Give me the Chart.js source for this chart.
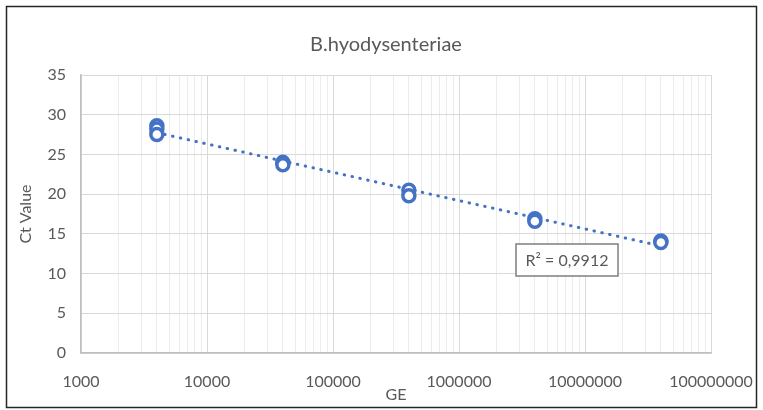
<!DOCTYPE html>
<html>
<head>
<meta charset="utf-8">
<script src="https://cdn.jsdelivr.net/npm/chart.js@4.4.0/dist/chart.umd.min.js"></script>
<style>
html, body { margin: 0; padding: 0; background: #fff; }
</style>
</head>
<body>
<canvas id="myChart" width="763" height="410"></canvas>
<script>
// data
const geValues = [4000, 4000, 4000, 40000, 40000, 400000, 400000, 4000000, 4000000, 40000000, 40000000];
const ctValues = [28.6, 28.2, 27.5, 24.0, 23.7, 20.5, 19.8, 16.9, 16.6, 14.1, 13.9];
const xTickValues = [1000, 10000, 100000, 1000000, 10000000, 100000000];
const xTickLabels = ['1000', '10000', '100000', '1000000', '10000000', '100000000'];
const yTicks = [0, 5, 10, 15, 20, 25, 30, 35];
const chartTitle = 'B.hyodysenteriae';
const rSquaredText = 'R² = 0,9912';

const blue = '#4472C4';
const textGrey = '#595959';
const font = 'Lato, "Open Sans", sans-serif';

// log trendline (least squares on log10 x), like Excel's
var lx = geValues.map(v => Math.log10(v));
var n = lx.length;
var mx = lx.reduce((a, b) => a + b, 0) / n;
var my = ctValues.reduce((a, b) => a + b, 0) / n;
var sxy = 0, sxx = 0;
for (var i = 0; i < n; i++) {
    sxy += (lx[i] - mx) * (ctValues[i] - my);
    sxx += (lx[i] - mx) * (lx[i] - mx);
}
var slope = sxy / sxx;
var icpt = my - slope * mx;
var xMin = Math.min.apply(null, geValues);
var xMax = Math.max.apply(null, geValues);
var trend = [xMin, xMax].map(x => ({ x: x, y: icpt + slope * Math.log10(x) }));

// minor log ticks 1..9 per decade
var allTicks = [];
for (var d = 0; d < xTickValues.length - 1; d++) {
    for (var k = 1; k < 10; k++) allTicks.push(xTickValues[d] * k);
}
allTicks.push(xTickValues[xTickValues.length - 1]);

// outer frame + title (title drawn here so it centres on the whole chart)
const framePlugin = {
    id: 'frame',
    afterDraw(chart) {
        const c = chart.ctx;
        c.save();
        c.strokeStyle = '#262626';
        c.lineWidth = 1.5;
        c.strokeRect(6.5, 6.5, 750, 401);
        c.fillStyle = textGrey;
        c.font = '20px ' + font;
        c.textAlign = 'center';
        c.textBaseline = 'middle';
        c.fillText(chartTitle, 386, 45);
        c.restore();
    }
};

const r2Plugin = {
    id: 'r2box',
    afterDatasetsDraw(chart) {
        const c = chart.ctx;
        const a = chart.chartArea;
        const left = a.left + 435, top = a.top + 169, w = 102, h = 32;
        c.save();
        c.fillStyle = '#fff';
        c.fillRect(left, top, w, h);
        c.strokeStyle = '#7f7f7f';
        c.lineWidth = 1.5;
        c.strokeRect(left, top, w, h);
        c.fillStyle = textGrey;
        c.font = '16px ' + font;
        c.textAlign = 'center';
        c.textBaseline = 'middle';
        c.fillText(rSquaredText, left + w / 2, top + h / 2 + 1);
        c.restore();
    }
};

const ctx = document.getElementById('myChart');

new Chart(ctx, {
    type: 'scatter',
    data: {
        datasets: [{
            label: 'Ct',
            data: geValues.map((x, i) => ({ x: x, y: ctValues[i] })),
            pointRadius: 6,
            pointBorderWidth: 3.5,
            borderColor: blue,
            backgroundColor: '#fff',
            order: 1
        }, {
            label: 'trend',
            type: 'line',
            data: trend,
            borderColor: blue,
            borderWidth: 3,
            borderDash: [0.5, 7.5],
            borderCapStyle: 'round',
            pointRadius: 0,
            fill: false,
            order: 2
        }]
    },
    options: {
        responsive: false,
        animation: false,
        layout: { padding: { top: 75, left: 12, right: 52, bottom: 6 } },
        plugins: {
            legend: { display: false },
            tooltip: { enabled: false },
            title: { display: false }
        },
        scales: {
            x: {
                type: 'logarithmic',
                min: xTickValues[0],
                max: xTickValues[xTickValues.length - 1],
                afterBuildTicks: function (scale) {
                    scale.ticks = allTicks.map(v => ({ value: v, major: xTickValues.indexOf(v) >= 0 }));
                },
                afterFit: function (scale) {
                    scale.height = 51;
                    scale.paddingLeft = 0;
                    scale.paddingRight = 0;
                },
                ticks: {
                    autoSkip: false,
                    maxRotation: 0,
                    padding: 19,
                    color: textGrey,
                    font: { family: font, size: 16 },
                    callback: function (value) {
                        var i = xTickValues.indexOf(value);
                        return i >= 0 ? xTickLabels[i] : '';
                    }
                },
                grid: {
                    drawTicks: false,
                    color: function (c) {
                        return c.tick && xTickValues.indexOf(c.tick.value) >= 0 ? '#d9d9d9' : '#ececec';
                    },
                    lineWidth: 1
                },
                border: { color: '#bfbfbf', width: 1.5 },
                title: {
                    display: true,
                    text: 'GE',
                    color: textGrey,
                    font: { family: font, size: 16 },
                    padding: { top: 0, bottom: 0 }
                }
            },
            y: {
                min: yTicks[0],
                max: yTicks[yTicks.length - 1],
                afterBuildTicks: function (scale) {
                    scale.ticks = yTicks.map(v => ({ value: v }));
                },
                afterFit: function (scale) { scale.width = 69; },
                ticks: {
                    padding: 15,
                    color: textGrey,
                    font: { family: font, size: 16 }
                },
                grid: { drawTicks: false, color: '#d9d9d9', lineWidth: 1 },
                border: { color: '#bfbfbf', width: 1.5 },
                title: {
                    display: true,
                    text: 'Ct Value',
                    color: textGrey,
                    font: { family: font, size: 16 },
                    padding: { top: 4, bottom: 4 }
                }
            }
        }
    },
    plugins: [framePlugin, r2Plugin]
});
</script>
</body>
</html>
